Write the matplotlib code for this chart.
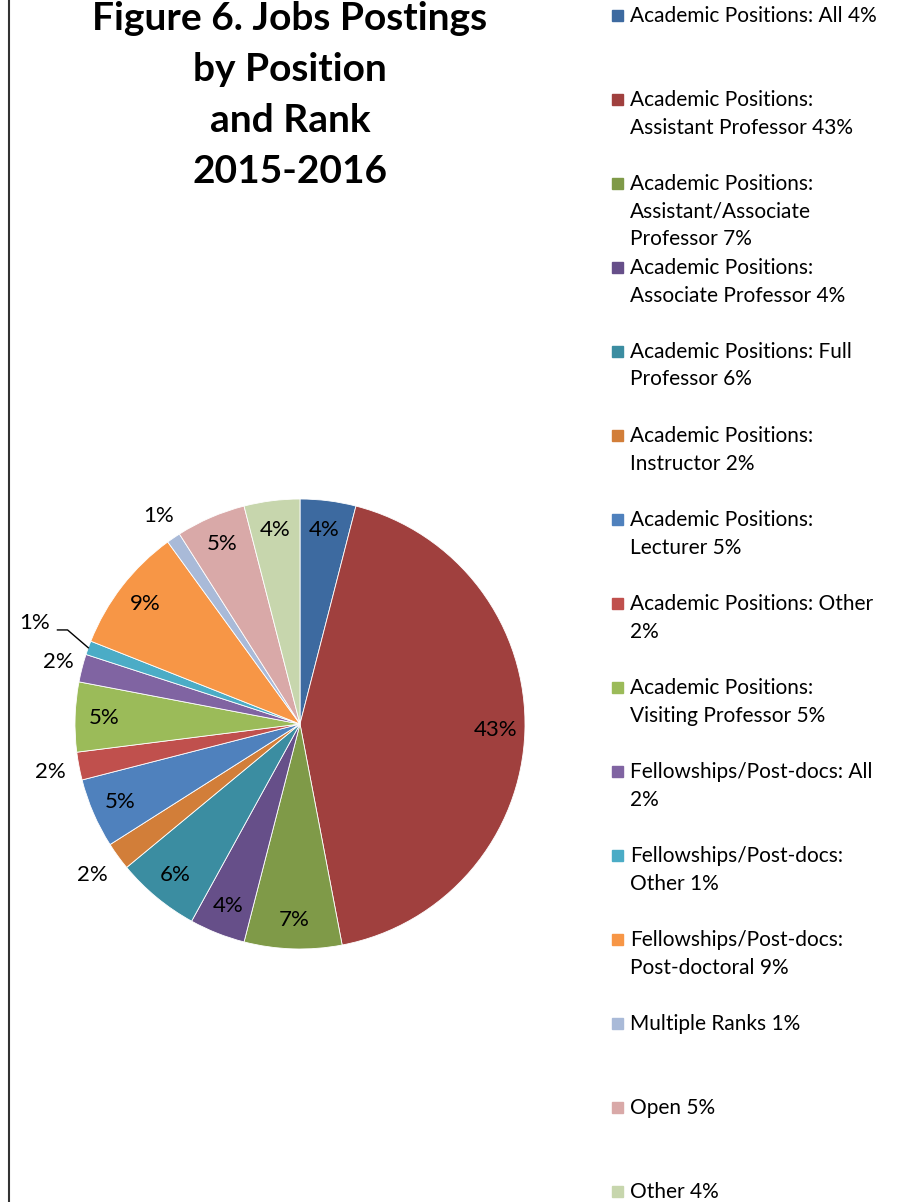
import numpy as np
import matplotlib
matplotlib.use("Agg")
import matplotlib.pyplot as plt

plt.rcParams['font.family'] = ['Lato', 'DejaVu Sans']

# datos del grafico
categorias = [
    "Academic Positions: All 4%",
    "Academic Positions:\nAssistant Professor 43%",
    "Academic Positions:\nAssistant/Associate\nProfessor 7%",
    "Academic Positions:\nAssociate Professor 4%",
    "Academic Positions: Full\nProfessor 6%",
    "Academic Positions:\nInstructor 2%",
    "Academic Positions:\nLecturer 5%",
    "Academic Positions: Other\n2%",
    "Academic Positions:\nVisiting Professor 5%",
    "Fellowships/Post-docs: All\n2%",
    "Fellowships/Post-docs:\nOther 1%",
    "Fellowships/Post-docs:\nPost-doctoral 9%",
    "Multiple Ranks 1%",
    "Open 5%",
    "Other 4%",
]
porcentajes = [4, 43, 7, 4, 6, 2, 5, 2, 5, 2, 1, 9, 1, 5, 4]
colores = ["#3D6AA0", "#A0403E", "#7F9A48", "#664F89", "#3B8DA1",
           "#D27E39", "#4F81BD", "#C0504D", "#9BBB59", "#8064A2",
           "#4BACC6", "#F79646", "#A9BAD8", "#D9A9A8", "#C7D6AD"]

W, H = 899, 1202
fig = plt.figure(figsize=(W / 100, H / 100), dpi=100)

def fx(px):
    return px / W

def fy(py):
    return 1 - py / H

# borde izquierdo
fig.add_artist(plt.Line2D([fx(9), fx(9)], [0, 1], color="#333333", lw=1.5))

# titulo
titulo = ["Figure 6. Jobs Postings", "by Position", "and Rank", "2015-2016"]
for i, linea in enumerate(titulo):
    fig.text(fx(290), fy(30 + 51 * i), linea, ha="center", va="baseline",
             fontsize=28, fontweight="bold", color="black")

# torta
cx, cy, r = 300, 724, 225
ax = fig.add_axes([fx(cx - r), fy(cy + r), 2 * r / W, 2 * r / H])
wedges, _ = ax.pie(porcentajes, colors=colores, startangle=90, counterclock=False,
                   radius=1, wedgeprops=dict(edgecolor="white", linewidth=0.6))
ax.set_xlim(-1, 1)
ax.set_ylim(-1, 1)
ax.set_aspect("auto")
ax.axis("off")

afuera = {5: 1.14, 7: 1.13, 9: 1.11, 12: 1.12}
for i, w in enumerate(wedges):
    ang = np.deg2rad((w.theta1 + w.theta2) / 2)
    txt = f"{porcentajes[i]}%"
    if i == 10:
        ex, ey = np.cos(ang), np.sin(ang)
        lx, ly = -1.178, 0.449
        ax.plot([lx + 0.1, lx + 0.145, ex * 1.0], [0.418, 0.418, ey], color="black",
                lw=1, clip_on=False)
        ax.text(lx, ly, txt, ha="center", va="center", fontsize=16)
        continue
    d = afuera.get(i, 0.87)
    ax.text(d * np.cos(ang), d * np.sin(ang), txt, ha="center", va="center",
            fontsize=16, color="black")

# leyenda
for i, nombre in enumerate(categorias):
    y0 = 15 + 84 * i
    fig.patches.append(plt.Rectangle((fx(612), fy(y0 + 6)), 11 / W, 11 / H,
                                     color=colores[i], transform=fig.transFigure))
    for j, linea in enumerate(nombre.split("\n")):
        fig.text(fx(630), fy(y0 + 7 + 27.5 * j), linea, ha="left", va="baseline",
                 fontsize=15, color="black")

fig.savefig("out.png", dpi=100)
